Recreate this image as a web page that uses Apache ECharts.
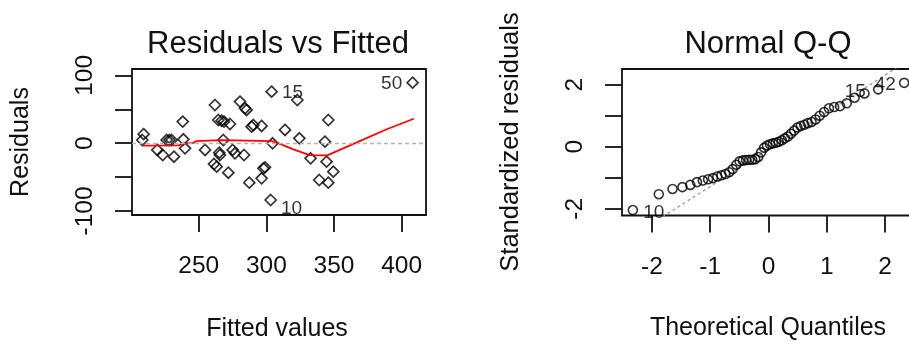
<!DOCTYPE html>
<html><head><meta charset="utf-8">
<script src="https://cdn.jsdelivr.net/npm/echarts@6/dist/echarts.min.js"></script>
<style>html,body{margin:0;padding:0;background:#fff;}#c{width:909px;height:341px;}</style>
</head><body><div id="c"></div>
<script>
// ---- Residuals vs Fitted ----
const fittedValues = [209.3, 208.3, 219.4, 223.4, 228.3, 230.0, 231.7, 238.2, 238.7, 239.9, 254.7, 262.0, 264.5, 268.7, 273.1, 268.2, 265.7, 261.3, 263.3, 271.9, 275.1, 276.8, 283.5, 280.5, 284.2, 285.4, 289.1, 290.4, 296.5, 303.9, 304.6, 297.8, 299.0, 296.5, 287.4, 303.2, 313.8, 322.9, 324.4, 332.7, 343.3, 345.8, 344.5, 349.5, 339.1, 345.8, 408.1, 266.9, 226.3, 265.2];
const residualValues = [13.3, 4.7, -10.0, -17.4, 4.7, 4.7, -19.9, 31.8, 5.7, -7.6, -10.0, 56.3, 34.2, 31.8, 28.3, 4.7, -17.4, -30.7, -34.6, -43.5, -10.0, -14.9, -17.4, 61.3, 51.4, 49.0, 24.4, 26.8, 25.4, 76.0, -0.2, -37.1, -35.6, -51.8, -58.2, -83.8, 19.5, 63.7, 7.2, -22.3, 2.3, 34.2, -27.2, -42.0, -54.3, -58.2, 89.3, 33.2, 4.7, -14.0];
const residualIdIndex = [46, 29, 35];
const residualIdText = ['50', '15', '10'];
const lowessX = [208.5, 235, 238.6, 246, 248, 267, 304, 310, 320, 332, 345, 369, 389, 409];
const lowessY = [-3.5, -3.2, -0.5, 0.5, 3, 4.5, 3, -1, -9, -17.5, -18, 3, 20.5, 36];
const fittedTicks = [250, 300, 350, 400];
const residualTicks = [-100, -50, 0, 50, 100];
const residualTickLabels = [-100, 0, 100];

// ---- Normal Q-Q ----
const theoreticalQuantiles = [-2.326, -1.881, -1.645, -1.476, -1.341, -1.227, -1.126, -1.036, -0.954, -0.878, -0.806, -0.739, -0.674, -0.613, -0.553, -0.496, -0.440, -0.385, -0.332, -0.279, -0.228, -0.176, -0.126, -0.075, -0.025, 0.025, 0.075, 0.126, 0.176, 0.228, 0.279, 0.332, 0.385, 0.440, 0.496, 0.553, 0.613, 0.674, 0.739, 0.806, 0.878, 0.954, 1.036, 1.126, 1.227, 1.341, 1.476, 1.645, 1.881, 2.326];
const standardizedResiduals = [-2.04, -1.53, -1.36, -1.30, -1.23, -1.14, -1.09, -1.05, -1.01, -0.96, -0.92, -0.88, -0.82, -0.72, -0.58, -0.47, -0.44, -0.43, -0.42, -0.42, -0.40, -0.33, -0.18, -0.03, 0.04, 0.08, 0.11, 0.13, 0.16, 0.21, 0.27, 0.33, 0.42, 0.52, 0.62, 0.67, 0.71, 0.76, 0.80, 0.88, 1.00, 1.12, 1.24, 1.28, 1.31, 1.40, 1.58, 1.72, 1.85, 2.06];
const qqIdIndex = [0, 48, 49];
const qqIdText = ['10', '15', '42'];
const qqLineX = [-2.6, 2.6];
const qqLineY = [-3.20, 3.03];
const quantileTicks = [-2, -1, 0, 1, 2];
const stdResTicks = [-2, -1, 0, 1, 2];
const stdResTickLabels = [-2, 0, 2];

const FONT = '"Liberation Sans", Arial, sans-serif';
const INK = '#111';

function axis(gridIndex, min, max, ticks, labels, margin, rotate) {
  return {
    type: 'value', gridIndex, min, max, scale: true,
    splitLine: { show: false },
    axisLine: { show: false, onZero: false },
    axisTick: { show: true, length: 17, lineStyle: { color: INK, width: 1.8 }, customValues: ticks },
    axisLabel: { customValues: labels, margin, rotate, fontSize: 24.5, color: INK, fontFamily: FONT }
  };
}

const idLabelStyle = { show: true, fontSize: 19, color: '#000', fontFamily: FONT };

const residualData = fittedValues.map((x, i) => {
  const item = { value: [x, residualValues[i]] };
  const k = residualIdIndex.indexOf(i);
  if (k >= 0) {
    const left = x > 310;
    item.label = Object.assign({}, idLabelStyle, {
      formatter: residualIdText[k],
      position: left ? 'left' : 'right',
      distance: 4,
      offset: residualValues[i] < 0 ? [0, 9] : [0, 1]
    });
  }
  return item;
});

const qqData = theoreticalQuantiles.map((x, i) => {
  const item = { value: [x, standardizedResiduals[i]] };
  const k = qqIdIndex.indexOf(i);
  if (k >= 0) {
    const left = x > 0;
    item.label = Object.assign({}, idLabelStyle, {
      formatter: qqIdText[k],
      position: left ? 'left' : 'right',
      distance: left ? (i === 48 ? 7 : 3) : 5,
      offset: standardizedResiduals[i] < 0 ? [0, 3] : [0, 2]
    });
  }
  return item;
});

const chart = echarts.init(document.getElementById('c'), null, { renderer: 'canvas' });
chart.setOption({
  animation: false,
  backgroundColor: '#fff',
  grid: [
    { left: 132, top: 69, width: 294, height: 146, show: true, borderColor: INK, borderWidth: 1.8, backgroundColor: 'transparent', containLabel: false, outerBoundsMode: 'none' },
    { left: 622, top: 69, width: 293, height: 146.5, show: true, borderColor: INK, borderWidth: 1.8, backgroundColor: 'transparent', containLabel: false, outerBoundsMode: 'none' }
  ],
  xAxis: [
    axis(0, 200.7, 418, fittedTicks, fittedTicks, 39, 0),
    axis(1, -2.512, 2.512, quantileTicks, quantileTicks, 39, 0)
  ],
  yAxis: [
    axis(0, -105.9, 109.4, residualTicks, residualTickLabels, 34, 90),
    axis(1, -2.216, 2.506, stdResTicks, stdResTickLabels, 34, 90)
  ],
  series: [
    {
      type: 'scatter', xAxisIndex: 0, yAxisIndex: 0, silent: true, z: 2,
      symbol: 'diamond', symbolSize: 11,
      itemStyle: { color: 'rgba(0,0,0,0)', borderColor: '#000', borderWidth: 1.7 },
      data: residualData,
      markLine: {
        silent: true, symbol: 'none', animation: false,
        label: { show: false },
        lineStyle: { color: '#b5b5b5', type: [4, 3], width: 1.4 },
        data: [{ yAxis: 0 }]
      }
    },
    {
      type: 'line', xAxisIndex: 0, yAxisIndex: 0, silent: true, z: 4,
      showSymbol: false, symbol: 'none',
      lineStyle: { color: '#ff0000', width: 1.8 },
      data: lowessX.map((x, i) => [x, lowessY[i]])
    },
    {
      type: 'line', xAxisIndex: 1, yAxisIndex: 1, silent: true, z: 1, clip: true,
      showSymbol: false, symbol: 'none',
      lineStyle: { color: '#9a9a9a', type: [3, 3], width: 1.3 },
      data: qqLineX.map((x, i) => [x, qqLineY[i]])
    },
    {
      type: 'scatter', xAxisIndex: 1, yAxisIndex: 1, silent: true, z: 2,
      symbol: 'circle', symbolSize: 9,
      itemStyle: { color: 'rgba(0,0,0,0)', borderColor: '#000', borderWidth: 1.6 },
      data: qqData
    }
  ],
  graphic: [
    { type: 'text', x: 278, y: 44, style: { text: 'Residuals vs Fitted', fill: INK, font: '31px ' + FONT, align: 'center', verticalAlign: 'middle', textAlign: 'center', textVerticalAlign: 'middle' } },
    { type: 'text', x: 768, y: 44, style: { text: 'Normal Q-Q', fill: INK, font: '31px ' + FONT, align: 'center', verticalAlign: 'middle', textAlign: 'center', textVerticalAlign: 'middle' } },
    { type: 'text', x: 21, y: 142, rotation: Math.PI / 2, style: { text: 'Residuals', fill: INK, font: '25px ' + FONT, align: 'center', verticalAlign: 'middle', textAlign: 'center', textVerticalAlign: 'middle' } },
    { type: 'text', x: 277, y: 329, style: { text: 'Fitted values', fill: INK, font: '25px ' + FONT, align: 'center', verticalAlign: 'middle', textAlign: 'center', textVerticalAlign: 'middle' } },
    { type: 'text', x: 511, y: 142, rotation: Math.PI / 2, style: { text: 'Standardized residuals', fill: INK, font: '25.5px ' + FONT, align: 'center', verticalAlign: 'middle', textAlign: 'center', textVerticalAlign: 'middle' } },
    { type: 'text', x: 768, y: 328.5, style: { text: 'Theoretical Quantiles', fill: INK, font: '25px ' + FONT, align: 'center', verticalAlign: 'middle', textAlign: 'center', textVerticalAlign: 'middle' } }
  ]
});
</script></body></html>
